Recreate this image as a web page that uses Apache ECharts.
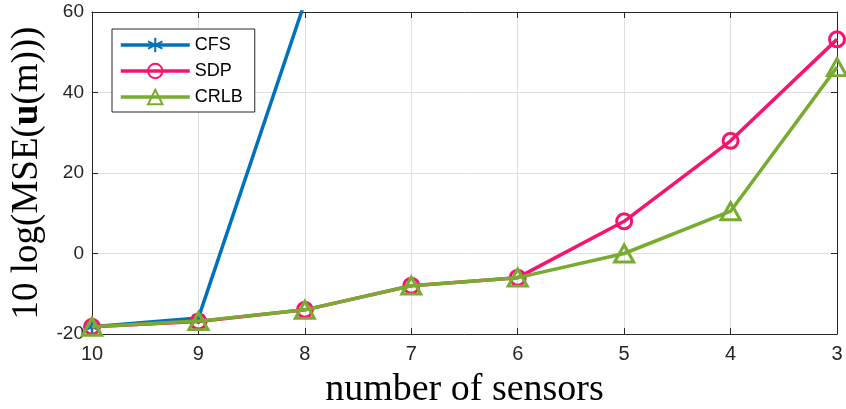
<!DOCTYPE html>
<html>
<head>
<meta charset="utf-8">
<script src="https://cdn.jsdelivr.net/npm/echarts@6/dist/echarts.min.js"></script>
<style>
  html, body { margin: 0; padding: 0; background: #fff; }
  #chart { width: 846px; height: 409px; }
</style>
</head>
<body>
<div id="chart"></div>
<script>
// Number of sensors, from 10 down to 3
const sensors = ['10', '9', '8', '7', '6', '5', '4', '3'];

// 10 log(MSE) per method; CFS leaves the plotted range after 8 sensors
const cfs  = [-18.2, -16.0, 62.5, null, null, null, null, null];
const sdp  = [-18.2, -16.9, -14.0, -8.0, -6.0, 8.0, 28.0, 53.2];
const crlb = [-18.2, -16.8, -14.0, -8.0, -6.0, 0.0, 10.5, 46.3];

const yTicks = { min: -20, max: 60, interval: 20 };

const BLUE = '#0072bd';
const PINK = '#f8136f';
const GREEN = '#77ac30';
const AXIS = '#262626';
const SANS = 'Liberation Sans, Arial, sans-serif';
const SERIF = 'Liberation Serif, Times New Roman, serif';
const LINE_W = 3.5;

// six-armed asterisk marker
const asterisk = 'path://M0,-10L0,10M-8.66,-5L8.66,5M-8.66,5L8.66,-5';

const chart = echarts.init(document.getElementById('chart'), null, { renderer: 'canvas' });

const tickCommon = { show: true, inside: true, length: 6, lineStyle: { color: AXIS, width: 1 } };
const lineCommon = { show: true, onZero: false, lineStyle: { color: AXIS, width: 1 } };

chart.setOption({
  animation: false,
  backgroundColor: '#fff',
  grid: { left: 92, right: 9, top: 12, bottom: 75, containLabel: false, outerBoundsMode: 'none' },
  legend: {
    orient: 'vertical',
    left: 112,
    top: 29,
    padding: [7, 12, 6, 7],
    itemGap: 8,
    itemWidth: 69,
    itemHeight: 18,
    borderColor: AXIS,
    borderWidth: 1,
    backgroundColor: '#fff',
    lineStyle: { width: LINE_W },
    textStyle: { fontFamily: SANS, fontSize: 18, color: '#000' },
    data: ['CFS', 'SDP', 'CRLB']
  },
  xAxis: [
    {
      type: 'category',
      data: sensors,
      boundaryGap: false,
      axisLine: lineCommon,
      axisTick: Object.assign({ alignWithLabel: true }, tickCommon),
      axisLabel: { fontFamily: SANS, fontSize: 20, color: AXIS, margin: 10 },
      splitLine: { show: true, lineStyle: { color: '#dedede', width: 1 } },
      name: 'number of sensors',
      nameLocation: 'middle',
      nameGap: 37,
      nameTextStyle: { fontFamily: SERIF, fontSize: 38, color: '#000' }
    },
    {
      type: 'category',
      data: sensors,
      boundaryGap: false,
      position: 'top',
      axisLine: lineCommon,
      axisTick: tickCommon,
      axisLabel: { show: false },
      splitLine: { show: false }
    }
  ],
  yAxis: [
    {
      type: 'value',
      min: yTicks.min,
      max: yTicks.max,
      interval: yTicks.interval,
      axisLine: lineCommon,
      axisTick: tickCommon,
      axisLabel: { fontFamily: SANS, fontSize: 19, color: AXIS, margin: 8 },
      splitLine: { show: true, lineStyle: { color: '#dedede', width: 1 } },
      name: '10 log(MSE({b|u}(m)))',
      nameLocation: 'middle',
      nameGap: 44,
      nameTextStyle: {
        fontFamily: SERIF, fontSize: 37, color: '#000',
        rich: { b: { fontFamily: SERIF, fontSize: 37, fontWeight: 'bold', color: '#000' } }
      }
    },
    {
      type: 'value',
      position: 'right',
      min: yTicks.min,
      max: yTicks.max,
      interval: yTicks.interval,
      axisLine: lineCommon,
      axisTick: tickCommon,
      axisLabel: { show: false },
      splitLine: { show: false }
    }
  ],
  series: [
    {
      name: 'CFS',
      type: 'line',
      data: cfs,
      clip: true,
      symbol: asterisk,
      symbolSize: 12,
      showAllSymbol: true,
      lineStyle: { color: BLUE, width: LINE_W },
      itemStyle: { color: BLUE, borderColor: BLUE, borderWidth: 2.5 },
      z: 2
    },
    {
      name: 'SDP',
      type: 'line',
      data: sdp,
      clip: true,
      symbol: 'circle',
      symbolSize: 15,
      showAllSymbol: true,
      lineStyle: { color: PINK, width: LINE_W },
      itemStyle: { color: 'rgba(0,0,0,0)', borderColor: PINK, borderWidth: 3 },
      z: 3
    },
    {
      name: 'CRLB',
      type: 'line',
      data: crlb,
      clip: true,
      symbol: 'triangle',
      symbolSize: [19, 17],
      showAllSymbol: true,
      lineStyle: { color: GREEN, width: LINE_W },
      itemStyle: { color: 'rgba(0,0,0,0)', borderColor: GREEN, borderWidth: 3 },
      z: 4
    }
  ]
});
</script>
</body>
</html>
